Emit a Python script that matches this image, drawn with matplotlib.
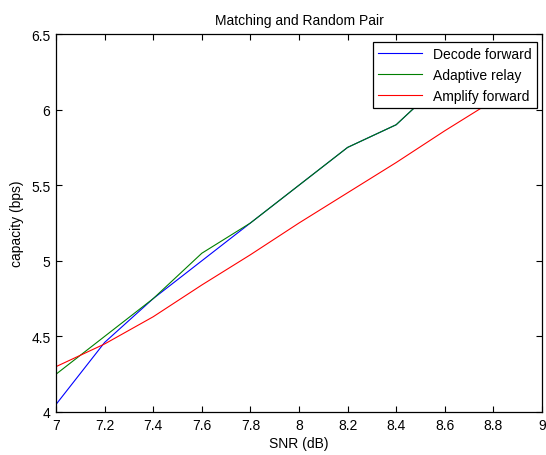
import matplotlib
matplotlib.use('Agg')
import matplotlib.pyplot as plt

plt.rcParams['font.family'] = ['Liberation Sans', 'DejaVu Sans']

snr = [7.0, 7.2, 7.4, 7.6, 7.8, 8.0, 8.2, 8.4, 8.6, 8.8]
decode_fwd = [4.05, 4.46, 4.75, 5.0, 5.25, 5.5, 5.75, 5.9, 6.2, 6.4]
adaptive = [4.25, 4.5, 4.75, 5.05, 5.25, 5.5, 5.75, 5.9, 6.2, 6.4]
amplify_fwd = [4.3, 4.45, 4.63, 4.84, 5.04, 5.25, 5.45, 5.65, 5.86, 6.06]

fig = plt.figure(figsize=(5.46, 4.56), dpi=100)
ax = fig.add_axes([0.1026, 0.0943, 0.890, 0.8289])

ax.plot(snr, decode_fwd, color='#0000ff', lw=0.8, label='Decode forward')
ax.plot(snr, adaptive, color='#007f00', lw=0.8, label='Adaptive relay')
ax.plot(snr, amplify_fwd, color='#ff0000', lw=0.8, label='Amplify forward')

ax.set_xlim(7, 9)
ax.set_ylim(4, 6.5)
ax.set_xticks([7, 7.2, 7.4, 7.6, 7.8, 8, 8.2, 8.4, 8.6, 8.8, 9])
ax.set_xticklabels(['7', '7.2', '7.4', '7.6', '7.8', '8', '8.2', '8.4', '8.6', '8.8', '9'])
ax.set_yticks([4, 4.5, 5, 5.5, 6, 6.5])
ax.set_yticklabels(['4', '4.5', '5', '5.5', '6', '6.5'])
ax.tick_params(direction='in', length=4, width=0.8, top=True, right=True,
               labelsize=10, pad=4)
for s in ax.spines.values():
    s.set_linewidth(0.9)

ax.set_xlabel('SNR (dB)', fontsize=10, labelpad=3)
ax.set_ylabel('capacity (bps)', fontsize=10, labelpad=5)
ax.set_title('Matching and Random Pair', fontsize=10, pad=7)

leg = ax.legend(loc='upper right', bbox_to_anchor=(0.9897, 0.9788),
                fontsize=10, frameon=True, fancybox=False,
                edgecolor='black', framealpha=1, borderpad=0.35,
                labelspacing=0.5, handlelength=3.2, handletextpad=0.8,
                borderaxespad=0)
leg.get_frame().set_linewidth(0.9)

fig.savefig('out.png', dpi=100)
